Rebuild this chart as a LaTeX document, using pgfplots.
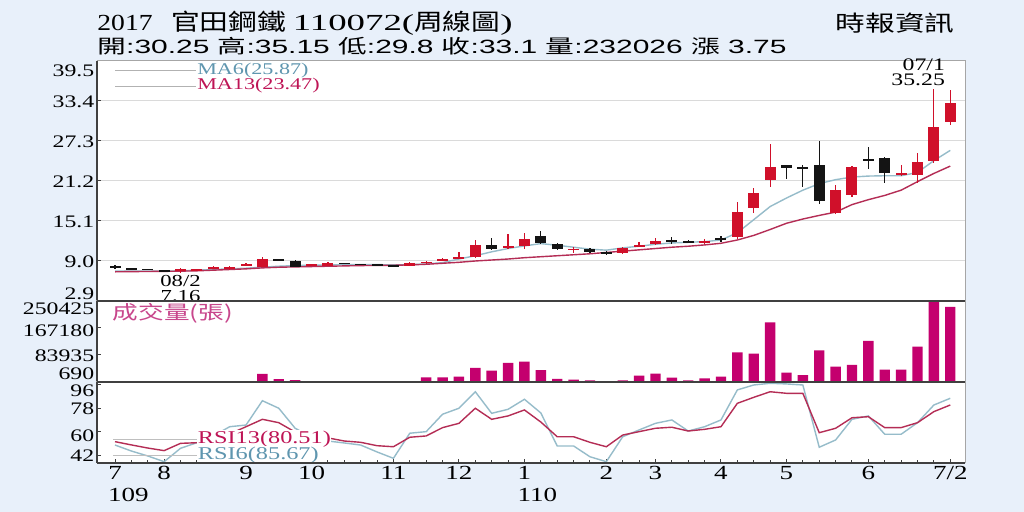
\documentclass[border=0pt]{standalone}
\usepackage{fontspec}
\setmainfont{Liberation Serif}[FakeStretch=1.35]
\newfontfamily\tfont{Liberation Serif}[FakeStretch=1.2]
\newfontfamily\tfontw{Liberation Serif}[FakeStretch=1.6]
\newfontfamily\cjkt{Noto Sans CJK TC}[FakeStretch=1.25]
\newfontfamily\cjk{Noto Sans CJK TC}[FakeStretch=1.35]
\newfontfamily\sfw{Liberation Sans}[FakeStretch=1.56]
\newfontfamily\cjkw{Noto Sans CJK TC}[FakeStretch=1.5]
\usepackage{pgfplots}
\pgfplotsset{compat=1.18}
\usepackage{pgfplotstable}

\definecolor{bgc}{RGB}{232,240,250}
\definecolor{candred}{RGB}{208,16,42}
\definecolor{candblk}{RGB}{20,20,20}
\definecolor{volc}{RGB}{196,0,110}
\definecolor{maA}{RGB}{150,188,202}
\definecolor{maB}{RGB}{180,45,85}
\definecolor{maAtxt}{RGB}{95,150,175}
\definecolor{maBtxt}{RGB}{190,20,85}
\definecolor{volt}{RGB}{200,70,140}
\definecolor{gridc}{RGB}{218,218,218}

\pgfplotstableread{
i O H L C
4 7.4 7.9 7.16 7.75
5 7.68 7.8 7.6 7.72
6 7.95 8.2 7.8 8.0
7 7.8 8.2 7.7 8.1
8 8.4 8.7 8.3 8.45
9 8.15 9.65 8.1 9.25
12 8.4 8.55 8.3 8.45
13 8.3 8.9 8.25 8.65
18 8.25 8.8 8.2 8.75
19 8.8 9.0 8.6 8.85
20 9.0 9.4 8.95 9.3
21 9.35 10.4 9.3 9.6
22 9.55 12.2 9.5 11.45
24 10.95 13.1 10.9 11.3
25 11.3 13.3 10.8 12.35
28 10.75 11.2 10.2 10.85
31 10.2 11.2 10.0 11.0
32 11.2 11.95 11.1 11.5
33 11.6 12.45 11.5 12.0
36 11.8 12.4 11.6 12.1
38 12.6 18.0 12.4 16.5
39 17.1 20.1 16.3 19.4
40 21.35 26.8 20.3 23.3
44 16.3 20.6 16.2 19.8
45 19.1 23.5 18.7 23.4
48 22.2 23.6 22.0 22.35
49 22.1 25.5 20.9 24.1
50 24.3 35.25 24.0 29.4
51 30.25 35.15 29.8 33.1
}\upT

\pgfplotstableread{
i O H L C
0 8.3 8.4 7.8 7.9
1 7.9 8.0 7.6 7.7
2 7.75 7.85 7.6 7.7
3 7.6 7.7 7.3 7.4
10 9.2 9.3 9.0 9.1
11 9.0 9.1 8.1 8.15
14 8.7 8.75 8.55 8.6
15 8.5 8.6 8.4 8.45
16 8.45 8.5 8.35 8.4
17 8.35 8.4 8.2 8.25
23 11.45 12.55 10.7 10.85
26 12.8 13.6 11.6 11.7
27 11.65 11.8 10.7 10.8
29 10.8 11.0 10.2 10.4
30 10.4 10.5 9.95 10.06
34 12.1 12.6 11.6 12.05
35 12.1 12.2 11.7 11.8
37 12.4 12.8 11.9 12.3
41 23.6 23.7 21.5 23.2
42 23.25 23.6 20.3 23.2
43 23.6 27.35 17.7 18.1
46 24.45 26.4 23.0 24.4
47 24.7 24.8 20.9 22.4
}\downT

\pgfplotstableread{
i ma6 ma13 vol rsi6 rsi13
0 7.45 7.35 2500 49.7 52.3
1 7.45 7.38 1500 45.1 49.8
2 7.45 7.40 1200 41.3 47.4
3 7.45 7.42 1500 36.9 45.4
4 7.50 7.45 2000 47.2 51.0
5 7.60 7.50 800 51.5 51.5
6 7.70 7.60 1000 56.7 53.6
7 7.80 7.70 2500 63.8 58.2
8 7.90 7.80 2200 65.1 63.8
9 8.05 7.95 24700 83.8 69.5
10 8.20 8.05 9000 78.0 66.9
11 8.30 8.10 6000 62.6 59.7
12 8.35 8.15 1500 55.9 56.7
13 8.40 8.20 1800 52.8 55.2
14 8.45 8.25 1200 51.3 52.8
15 8.45 8.30 1000 49.7 51.8
16 8.45 8.32 1200 44.4 49.2
17 8.40 8.35 1500 39.5 48.4
18 8.45 8.40 2500 58.8 55.7
19 8.55 8.50 14500 60.0 56.7
20 8.75 8.65 14500 73.4 63.1
21 9.30 8.80 16500 78.0 66.4
22 9.80 9.00 44000 90.7 78.0
23 10.40 9.15 35000 74.1 69.5
24 10.90 9.30 58800 77.2 72.1
25 11.30 9.50 62800 84.9 76.7
26 11.65 9.65 37000 74.4 67.4
27 11.40 9.80 9300 49.0 56.1
28 11.10 9.95 7200 49.0 56.1
29 10.80 10.10 5200 40.7 51.8
30 10.65 10.30 3000 36.9 48.4
31 11.00 10.50 5200 56.1 57.4
32 11.25 10.70 19600 61.3 60.0
33 11.55 10.90 25800 66.4 62.6
34 11.75 11.10 13400 69.0 63.4
35 11.85 11.25 5200 60.5 60.5
36 11.95 11.45 11300 63.8 61.8
37 12.20 11.70 16500 69.0 63.8
38 13.30 12.20 91800 92.1 81.8
39 15.30 12.90 87600 95.9 86.4
40 17.30 13.80 184600 97.2 90.7
41 18.60 14.75 28900 96.7 89.5
42 19.80 15.40 21600 95.9 89.5
43 20.80 15.95 97900 48.0 59.2
44 21.40 16.45 47400 53.6 62.6
45 21.80 17.60 52600 69.5 70.7
46 21.95 18.35 126800 72.1 71.5
47 22.00 19.00 38100 58.0 63.1
48 22.00 19.80 38100 58.0 63.1
49 22.50 21.10 109200 66.9 66.9
50 24.30 22.35 250425 80.5 75.4
51 25.87 23.47 232026 85.67 80.51
}\ind

\pgfplotsset{
  panel/.style={
    scale only axis, width=434pt, xmin=-1.1, xmax=51.9,
    axis background/.style={fill=white},
    axis line style={draw=black!35, line width=0.5pt},
    tick style={black!75, line width=0.5pt},
    ytick pos=left, xtick pos=bottom, tick align=inside,
    major tick length=2pt, minor tick length=1.5pt,
    clip=false,
    yticklabel style={anchor=base east, yshift=-3.1pt, inner sep=1.2pt,
      font=\fontsize{8.8}{8.8}\selectfont},
  },
  candle/.style={draw=none, mark=none, forget plot,
    error bars/.cd, y dir=both, y explicit, error mark=none},
}

\begin{document}
\begin{tikzpicture}
\fill[bgc] (0pt,0pt) rectangle (512pt,256pt);

% ---------------- price panel ----------------
\begin{axis}[panel, at={(48.5pt,105.5pt)}, anchor=south west, height=120pt,
  ymin=2.9, ymax=39.5, xtick=\empty,
  ytick={2.9,9.0,15.1,21.2,27.3,33.4,39.5},
  yticklabels={\raisebox{4pt}{2.9},9.0,15.1,21.2,27.3,33.4,\raisebox{-4.5pt}{39.5}},
  ymajorgrids, grid style={gridc, line width=0.5pt}]
% MA lines
\addplot[maA, line width=0.7pt] table[x=i, y=ma6] {\ind};
\addplot[maB, line width=0.7pt] table[x=i, y=ma13] {\ind};
% wicks
\addplot[candle, error bar style={draw=candred, line width=0.6pt}]
  table[x=i, y expr={(\thisrow{H}+\thisrow{L})/2}, y error expr={(\thisrow{H}-\thisrow{L})/2}] {\upT};
\addplot[candle, error bar style={draw=candblk, line width=0.6pt}]
  table[x=i, y expr={(\thisrow{H}+\thisrow{L})/2}, y error expr={(\thisrow{H}-\thisrow{L})/2}] {\downT};
% bodies
\addplot[candle, error bar style={draw=candred, line width=5.5pt}]
  table[x=i, y expr={(\thisrow{O}+\thisrow{C})/2}, y error expr={max(abs(\thisrow{C}-\thisrow{O})/2,0.08)}] {\upT};
\addplot[candle, error bar style={draw=candblk, line width=5.5pt}]
  table[x=i, y expr={(\thisrow{O}+\thisrow{C})/2}, y error expr={max(abs(\thisrow{C}-\thisrow{O})/2,0.08)}] {\downT};
% legend
\draw[black!30, line width=0.4pt] (axis cs:0,38.1) -- (axis cs:4.95,38.1);
\draw[black!30, line width=0.4pt] (axis cs:0,35.7) -- (axis cs:4.95,35.7);
\node[anchor=west, inner sep=0pt, text=maAtxt, font=\fontsize{8.2}{8.2}\selectfont] at (axis cs:5.0,38.1) {MA6(25.87)};
\node[anchor=west, inner sep=0pt, text=maBtxt, font=\fontsize{8.2}{8.2}\selectfont] at (axis cs:5.0,35.7) {MA13(23.47)};
% annotations
\node[inner sep=0pt, font=\fontsize{8.4}{8.4}\selectfont] at (axis cs:4,6.0) {08/2};
\node[inner sep=0pt, font=\fontsize{8.4}{8.4}\selectfont] at (axis cs:4,3.65) {7.16};
\node[anchor=east, inner sep=0pt, font=\fontsize{8.8}{8.8}\selectfont] at (axis cs:50.7,38.9) {07/1};
\node[anchor=east, inner sep=0pt, font=\fontsize{8.8}{8.8}\selectfont] at (axis cs:50.7,36.6) {35.25};
\draw[black!75, line width=0.6pt] (rel axis cs:0,0) -- (rel axis cs:0,1);
\end{axis}

% ---------------- volume panel ----------------
\begin{axis}[panel, at={(48.5pt,65pt)}, anchor=south west, height=40.5pt,
  ymin=0, ymax=250425, xtick=\empty,
  ytick={690,83935,167180,250425},
  yticklabels={\raisebox{4pt}{690},83935,\raisebox{-1pt}{167180},\raisebox{-3.5pt}{250425}},
  scaled y ticks=false]
\addplot[ybar, bar width=5.2pt, bar shift=0pt, fill=volc, draw=none] table[x=i, y=vol] {\ind};
\node[anchor=west, inner sep=0pt, text=volt, font=\cjk\fontsize{9.5}{9.5}\selectfont] at (axis cs:-0.15,211000) {成交量(張)};
\draw[black!75, line width=0.6pt] (rel axis cs:0,0) -- (rel axis cs:0,1);
\draw[black!75, line width=0.6pt] (rel axis cs:0,1) -- (rel axis cs:1,1);
\end{axis}

% ---------------- RSI panel ----------------
\begin{axis}[panel, at={(48.5pt,24.5pt)}, anchor=south west, height=40.5pt,
  ymin=35.9, ymax=98.2,
  ytick={42,60,78,96},
  yticklabels={42,\raisebox{-2pt}{60},78,\raisebox{-2.5pt}{96}},
  xtick={0,3,8,12,17,21,25,30,33,37,41,46,51},
  xticklabels={{7\\\makebox[0pt][l]{\kern-3.4pt 109}},8,9,10,11,12,{1\\\makebox[0pt][l]{\kern-3.4pt 110}},2,3,4,5,6,7/2},
  minor xtick={0,...,51},
  xticklabel style={align=center, anchor=north, inner sep=1pt, yshift=-0.5pt,
    font=\fontsize{10}{11}\selectfont}]
\addplot[maA, line width=0.7pt] table[x=i, y=rsi6] {\ind};
\addplot[maB, line width=0.7pt] table[x=i, y=rsi13] {\ind};
\draw[black!25, line width=0.4pt] (axis cs:-0.1,54.4) -- (axis cs:5,54.4);
\draw[black!25, line width=0.4pt] (axis cs:-0.1,42.1) -- (axis cs:5,42.1);
\node[anchor=west, inner sep=0.3pt, fill=white, text=maBtxt, font=\fontsize{9}{9}\selectfont] at (axis cs:5.0,54.4) {RSI13(80.51)};
\node[anchor=west, inner sep=0.3pt, fill=white, text=maAtxt, font=\fontsize{9}{9}\selectfont] at (axis cs:5.0,42.1) {RSI6(85.67)};
\draw[black!75, line width=0.6pt] (rel axis cs:0,0) -- (rel axis cs:0,1);
\draw[black!75, line width=0.6pt] (rel axis cs:0,1) -- (rel axis cs:1,1);
\draw[black!75, line width=0.6pt] (rel axis cs:0,0) -- (rel axis cs:1,0);
\end{axis}

% ---------------- titles ----------------
\node[anchor=base west, inner sep=0pt, font=\tfont\fontsize{11.5}{11.5}\selectfont] at (48.5pt,240.5pt)
  {2017\hspace{0.8em}{\cjkt 官田鋼鐵} {\tfontw 110072(}{\cjkt 周線圖}{\tfontw )}};
\node[anchor=base west, inner sep=0pt, font=\sfw\fontsize{9.6}{9.6}\selectfont] at (48.5pt,229pt)
  {{\cjkw 開}:30.25 {\cjkw 高}:35.15 {\cjkw 低}:29.8 {\cjkw 收}:33.1 {\cjkw 量}:232026 {\cjkw 漲} 3.75};
\node[anchor=base east, inner sep=0pt, font=\cjk\fontsize{11}{11}\selectfont] at (477.5pt,240pt) {時報資訊};

\pgfresetboundingbox
\path (0pt,0pt) rectangle (512pt,256pt);
\end{tikzpicture}
\end{document}
